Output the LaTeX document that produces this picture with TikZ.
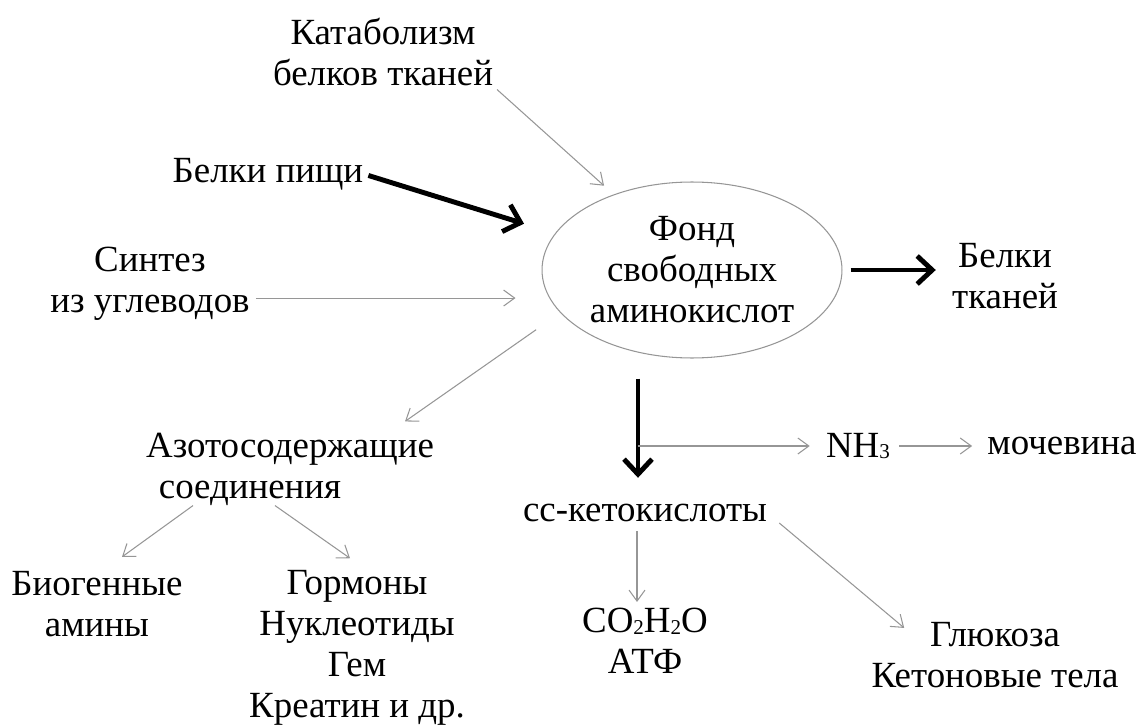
\documentclass[tikz,border=0pt]{standalone}
\usepackage{fontspec}
\setmainfont{Liberation Serif}
\usetikzlibrary{arrows.meta, shapes.geometric}
\definecolor{thinline}{RGB}{150, 150, 150}
\newcommand{\chemsub}[1]{\raisebox{-0.8pt}{\fontsize{12}{12}\selectfont #1}}

\begin{document}
\begin{tikzpicture}[x=0.02cm, y=-0.02cm,
    every node/.style={font=\fontsize{21}{23.3}\selectfont, inner sep=0pt, align=center},
    light/.style={draw=thinline, line width=0.6pt, -{Straight Barb[length=2.2mm, width=3.2mm]}},
    heavy/.style={draw=black, line width=2.8pt, -{Straight Barb[length=3mm, width=5.6mm]}}]

  \useasboundingbox (0, 0) rectangle (1142, 726);

  % sources
  \node (katab) at (383, 52) {Катаболизм\\белков тканей};
  \node (food) at (268, 174) {Белки пищи};
  \node (synth) at (150, 284) {Синтез\\из углеводов};

  % pool
  \node[ellipse, draw=thinline, line width=0.6pt, minimum width=6cm, minimum height=3.52cm]
    (pool) at (692, 270) {Фонд\\свободных\\аминокислот};
  \node (tissue) at (1005, 276) {Белки\\тканей};

  % products
  \node (azot) at (290, 469) {Азотосодержащие\\\hspace*{-1.6cm}соединения};
  \node (amines) at (97, 604) {Биогенные\\амины};
  \node (hormones) at (357, 648) {Гормоны\\Нуклеотиды\\Гем\\Креатин и др.};
  \node (keto) at (645, 513) {сс-кетокислоты};
  \node (nh3) at (858, 446) {NH\chemsub{3}};
  \node (urea) at (1062, 446) {мочевина};
  \node (co2) at (645, 641) {CO\chemsub{2}H\chemsub{2}O\\АТФ};
  \node (glucose) at (995, 655) {Глюкоза\\Кетоновые тела};
  \coordinate (split) at (638, 446);

  % connectors
  \draw[light, shorten <=0.1cm, shorten >=0.26cm] (katab.south east) -- (pool.136);
  \draw[heavy, shorten <=0.1cm, shorten >=0.65cm] (food.east) -- (pool.165);
  \draw[light, shorten <=0.12cm, shorten >=0.52cm] (synth.-8) -- (synth.-8 -| pool.west);
  \draw[heavy, shorten <=0.16cm, shorten >=0.32cm] (pool.east) -- (pool.east -| tissue.west);
  \draw[light, shorten <=0.59cm] (pool.198) -- ([shift={(115, -11)}]azot.north);
  \draw[light] ([shift={(-97, 0)}]azot.south) -- ([shift={(25, -14)}]amines.north);
  \draw[light] ([shift={(-15, 0)}]azot.south) -- ([shift={(-7, -12)}]hormones.north);
  \draw[heavy] ([shift={(-54, 20)}]pool.south) -- ([shift={(-7, -26)}]keto.north);
  \draw[light, shorten >=0.32cm] (split) -- (split -| nh3.west);
  \draw[light, shorten <=0.18cm, shorten >=0.3cm] (nh3.east) -- (urea.west);
  \draw[light] ([shift={(-8, 9)}]keto.south) -- ([shift={(-8, -6)}]co2.north);
  \draw[light] ([shift={(12, 10)}]keto.east) -- ([shift={(33, 6)}]glucose.north west);

\end{tikzpicture}
\end{document}
